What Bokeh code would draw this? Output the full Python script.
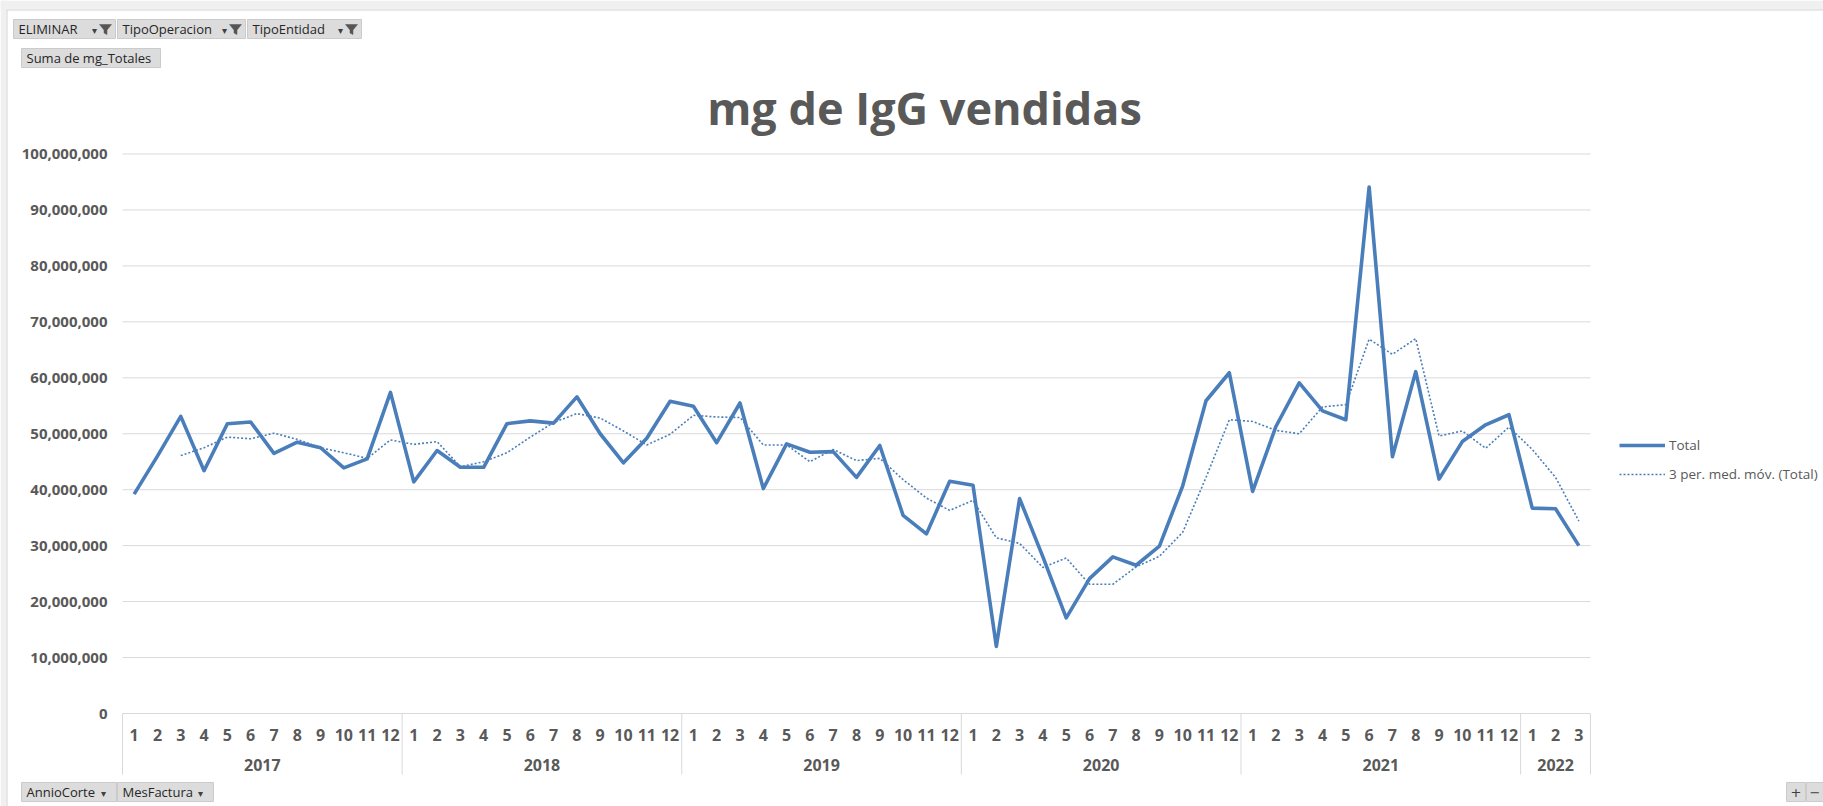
from bokeh.plotting import figure
from bokeh.models import Range1d, Legend, LegendItem, ColumnDataSource
from bokeh.embed import file_html
from bokeh.resources import INLINE
from bokeh.core.properties import value

# ---------------- data ----------------
years = ["2017", "2018", "2019", "2020", "2021", "2022"]
months_per_year = [12, 12, 12, 12, 12, 3]
months = [1, 2, 3, 4, 5, 6, 7, 8, 9, 10, 11, 12,
          1, 2, 3, 4, 5, 6, 7, 8, 9, 10, 11, 12,
          1, 2, 3, 4, 5, 6, 7, 8, 9, 10, 11, 12,
          1, 2, 3, 4, 5, 6, 7, 8, 9, 10, 11, 12,
          1, 2, 3, 4, 5, 6, 7, 8, 9, 10, 11, 12,
          1, 2, 3]
total = [39.2e6, 46.0e6, 53.1e6, 43.4e6, 51.8e6, 52.1e6, 46.5e6, 48.5e6, 47.5e6, 43.9e6, 45.5e6, 57.4e6,
         41.4e6, 47.0e6, 44.0e6, 44.0e6, 51.8e6, 52.3e6, 51.9e6, 56.6e6, 50.0e6, 44.8e6, 49.2e6, 55.8e6,
         54.9e6, 48.4e6, 55.5e6, 40.2e6, 48.2e6, 46.7e6, 46.8e6, 42.2e6, 47.9e6, 35.4e6, 32.1e6, 41.5e6,
         40.8e6, 12.0e6, 38.4e6, 28.0e6, 17.1e6, 24.1e6, 28.0e6, 26.5e6, 29.9e6, 40.7e6, 55.9e6, 60.9e6,
         39.7e6, 51.3e6, 59.1e6, 54.1e6, 52.5e6, 94.1e6, 45.9e6, 61.1e6, 41.9e6, 48.6e6, 51.6e6, 53.4e6,
         36.7e6, 36.6e6, 30.0e6]
# 3-period moving average (starts at the 3rd month)
moving_avg = [46.1e6, 47.5e6, 49.4e6, 49.1e6, 50.1e6, 49.0e6, 47.5e6, 46.6e6, 45.6e6, 48.9e6,
              48.1e6, 48.6e6, 44.1e6, 45.0e6, 46.6e6, 49.4e6, 52.0e6, 53.6e6, 52.8e6, 50.5e6, 48.0e6, 49.9e6,
              53.3e6, 53.0e6, 52.9e6, 48.0e6, 48.0e6, 45.0e6, 47.2e6, 45.2e6, 45.6e6, 41.8e6, 38.5e6, 36.3e6,
              38.1e6, 31.4e6, 30.4e6, 26.1e6, 27.8e6, 23.1e6, 23.1e6, 26.2e6, 28.1e6, 32.4e6, 42.2e6, 52.5e6,
              52.2e6, 50.6e6, 50.0e6, 54.8e6, 55.2e6, 66.9e6, 64.2e6, 67.0e6, 49.6e6, 50.5e6, 47.4e6, 51.2e6,
              47.2e6, 42.2e6, 34.4e6]
y_ticks = [0, 10e6, 20e6, 30e6, 40e6, 50e6, 60e6, 70e6, 80e6, 90e6, 100e6]

title_text = "mg de IgG vendidas"
series_names = ["Total", "3 per. med. móv. (Total)"]

# pivot-chart field buttons (label, left, right)
filter_buttons = [("ELIMINAR", 13, 115), ("TipoOperacion", 117, 245), ("TipoEntidad", 247, 361)]
value_buttons = [("Suma de mg_Totales", 21, 160)]
axis_buttons = [("AnnioCorte", 21, 116), ("MesFactura", 117, 213)]
zoom_buttons = [("+", 1786, 1805), ("\u2212", 1806, 1823)]

# ---------------- layout constants (page pixels) ----------------
FULL_W, FULL_H = 1823, 806
PLOT_L, PLOT_R = 122, 1590      # category area
PLOT_T, PLOT_B = 153.5, 713     # value 100M / value 0
Y_MAX = 100e6

GREY_TXT = "#595959"
GRID = "#d9d9d9"
BLUE = "#4A7EBB"
BTN_FILL = "#dcdcdc"
BTN_LINE = "#cbcbcb"
BTN_TXT = "#262626"
PAGE_GREY = "#f0f0f0"
EDGE = "#d4d4d4"

# ---------------- derived positions ----------------
n = len(total)
xs = list(range(1, n + 1))
xs_ma = xs[n - len(moving_avg):]
bounds = [0.5]
centers = []
for k in months_per_year:
    centers.append(bounds[-1] + k / 2.0)
    bounds.append(bounds[-1] + k)

px_per_cat = (PLOT_R - PLOT_L) / n
px_per_val = (PLOT_B - PLOT_T) / Y_MAX
x_start = 0.5 - PLOT_L / px_per_cat
x_end = n + 0.5 + (FULL_W - PLOT_R) / px_per_cat
y_start = -(FULL_H - PLOT_B) / px_per_val
y_end = Y_MAX + PLOT_T / px_per_val

p = figure(width=FULL_W, height=FULL_H, output_backend="svg", toolbar_location=None,
           x_axis_type=None, y_axis_type=None,
           x_range=Range1d(x_start, x_end), y_range=Range1d(y_start, y_end),
           min_border=0, min_border_left=0, min_border_right=0,
           min_border_top=0, min_border_bottom=0)
p.outline_line_color = None
p.background_fill_color = "white"
p.border_fill_color = "white"
# page-pixel ranges for the surrounding pivot-chart furniture
p.extra_x_ranges = {"px": Range1d(0, FULL_W)}
p.extra_y_ranges = {"py": Range1d(FULL_H, 0)}
PX = dict(x_range_name="px", y_range_name="py")

# page frame
p.quad(left=[0, 0], right=[FULL_W, 6], top=[0, 0], bottom=[9, FULL_H],
       fill_color=PAGE_GREY, line_color=None, **PX)
p.segment(x0=[6, 6.5], y0=[9.5, 9.5], x1=[FULL_W, 6.5], y1=[9.5, FULL_H],
          line_color=EDGE, line_width=1, **PX)

# ---------------- value axis: grid + labels ----------------
p.segment(x0=[0.5] * len(y_ticks), x1=[n + 0.5] * len(y_ticks), y0=y_ticks, y1=y_ticks,
          line_color=GRID, line_width=1)
p.text(x=[PLOT_L - 15] * len(y_ticks), y=y_ticks, text=[f"{int(v):,}" for v in y_ticks],
       x_range_name="px", text_align="right", text_baseline="middle",
       text_font=value("Open Sans"), text_font_style="bold", text_font_size="15px",
       text_color=GREY_TXT)

# ---------------- category axis: box separators + month / year labels ----------------
p.segment(x0=bounds, x1=bounds, y0=[PLOT_B] * len(bounds), y1=[774] * len(bounds),
          y_range_name="py", line_color=GRID, line_width=1)
p.text(x=xs, y=[734] * n, text=[str(m) for m in months], y_range_name="py",
       text_align="center", text_baseline="middle",
       text_font=value("Open Sans"), text_font_style="bold", text_font_size="16px",
       text_color=GREY_TXT)
p.text(x=centers, y=[764] * len(centers), text=years, y_range_name="py",
       text_align="center", text_baseline="middle",
       text_font=value("Open Sans"), text_font_style="bold", text_font_size="16px",
       text_color=GREY_TXT)

# ---------------- series ----------------
src = ColumnDataSource(dict(x=xs, y=total))
src_ma = ColumnDataSource(dict(x=xs_ma, y=moving_avg))
r_ma = p.line("x", "y", source=src_ma, line_color=BLUE, line_width=1.6, line_dash="2 2")
r_tot = p.line("x", "y", source=src, line_color=BLUE, line_width=3.6, line_join="round")

legend = Legend(items=[LegendItem(label=series_names[0], renderers=[r_tot]),
                       LegendItem(label=series_names[1], renderers=[r_ma])],
                location=(1619, FULL_H - 483), padding=0, margin=0, spacing=11,
                glyph_width=46, glyph_height=14, label_height=14, label_standoff=4,
                border_line_color=None, background_fill_alpha=0,
                label_text_font="Open Sans", label_text_font_size="13.5px",
                label_text_color=GREY_TXT)
p.add_layout(legend)

# ---------------- title ----------------
p.text(x=[(PLOT_L + PLOT_R) / 2.0 + 68], y=[107], text=[title_text], text_align="center",
       text_baseline="alphabetic", text_font=value("Open Sans"), text_font_style="bold",
       text_font_size="45px", text_color=GREY_TXT, **PX)


# ---------------- field buttons ----------------
def draw_buttons(items, y0, y1, arrow=False, funnel=False, center=False):
    p.quad(left=[b[1] for b in items], right=[b[2] for b in items],
           top=[y0] * len(items), bottom=[y1] * len(items),
           fill_color=BTN_FILL, line_color=BTN_LINE, line_width=1, **PX)
    ym = (y0 + y1) / 2.0
    if center:
        p.text(x=[(b[1] + b[2]) / 2.0 for b in items], y=[ym] * len(items), text=[b[0] for b in items],
               text_align="center", text_baseline="middle", text_font=value("DejaVu Sans"),
               text_font_size="13px", text_color="#404040", **PX)
    else:
        p.text(x=[b[1] + 5 for b in items], y=[ym] * len(items), text=[b[0] for b in items],
               text_baseline="middle", text_font=value("Open Sans"),
               text_font_size="13px", text_color=BTN_TXT, **PX)
    if arrow:
        off = 21 if funnel else 13
        p.text(x=[b[2] - off for b in items], y=[ym + 1] * len(items), text=["\u25be"] * len(items),
               text_align="center", text_baseline="middle", text_font=value("DejaVu Sans"),
               text_font_size="10px", text_color="#404040", **PX)
    if funnel:
        xsf, ysf = [], []
        for b in items:
            r = b[2] - 4
            xsf.append([r - 12, r, r - 4.5, r - 4.5, r - 7.5, r - 7.5])
            ysf.append([y0 + 5, y0 + 5, y0 + 10.5, y1 - 4, y1 - 5.5, y0 + 10.5])
        p.patches(xs=xsf, ys=ysf, fill_color="#555555", line_color="#555555", line_width=0.5, **PX)


draw_buttons(filter_buttons, 19, 38, arrow=True, funnel=True)
draw_buttons(value_buttons, 48, 67)
draw_buttons(axis_buttons, 782, 801, arrow=True)
draw_buttons(zoom_buttons, 782, 801, center=True)

open("out.html", "w").write(file_html(p, INLINE))
